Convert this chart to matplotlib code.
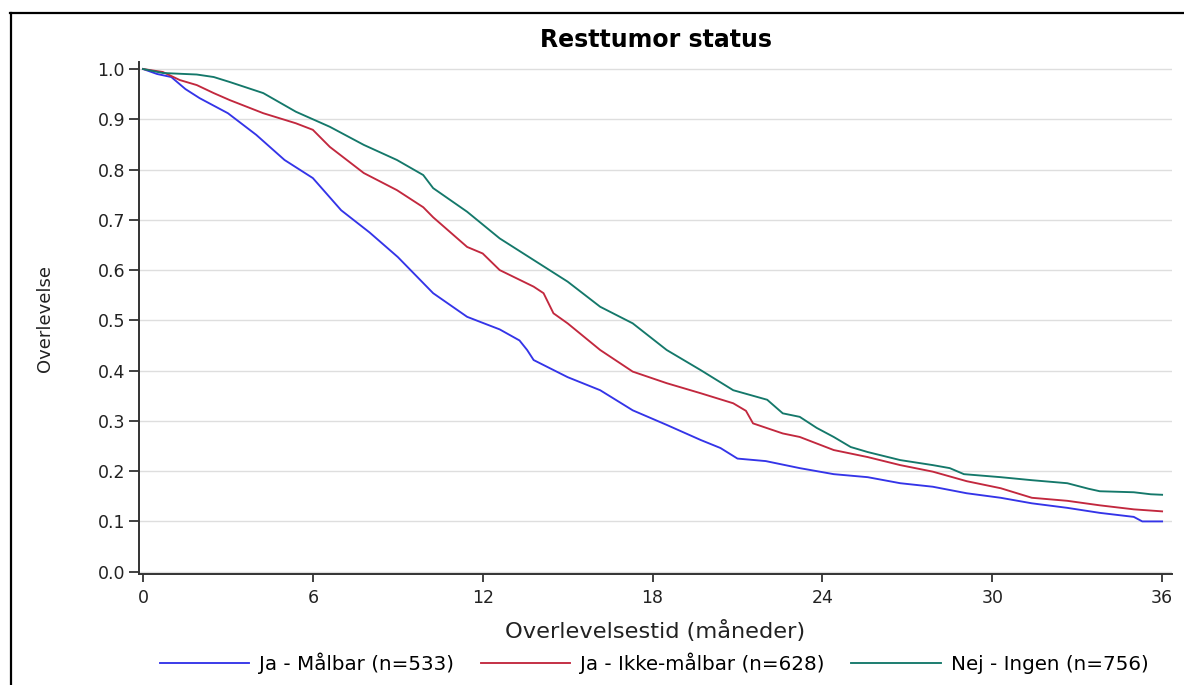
import matplotlib
matplotlib.use("Agg")
import matplotlib.pyplot as plt
from matplotlib.lines import Line2D

# ---- data (time in months, survival proportion) ----
t_maalbar = [0, 0.5, 1, 1.5, 2, 3, 4, 5, 6, 7, 8, 9, 10.25, 11.45, 12.0, 12.6,
             13.3, 13.57, 13.8, 15, 16.15, 17.3, 18.5, 19.7, 20.4, 21, 22, 23.2,
             24.4, 25.6, 26.75, 27.9, 29.1, 30.3, 31.4, 32.65, 33.8, 35, 35.3, 36]
s_maalbar = [1.0, 0.99, 0.984, 0.96, 0.942, 0.912, 0.869, 0.819, 0.783, 0.719,
             0.675, 0.626, 0.554, 0.507, 0.495, 0.482, 0.460, 0.441, 0.421, 0.387,
             0.361, 0.321, 0.292, 0.262, 0.246, 0.225, 0.22, 0.206, 0.194, 0.188,
             0.176, 0.169, 0.156, 0.147, 0.136, 0.127, 0.117, 0.109, 0.10, 0.10]

t_ikke_maalbar = [0, 0.7, 1.3, 1.9, 2.5, 3.07, 4.25, 5.4, 6.0, 6.6, 7.8, 8.97,
                  9.9, 10.25, 11.45, 12.0, 12.6, 13.8, 14.15, 14.5, 15, 16.15,
                  17.3, 18.5, 19.7, 20.85, 21.3, 21.55, 22.6, 23.2, 24.4, 25.6,
                  26.75, 27.9, 29.1, 30.3, 31.4, 32.65, 33.8, 35, 36]
s_ikke_maalbar = [1.0, 0.994, 0.978, 0.968, 0.952, 0.938, 0.912, 0.892, 0.879,
                  0.845, 0.793, 0.759, 0.725, 0.705, 0.646, 0.633, 0.600, 0.567,
                  0.554, 0.514, 0.494, 0.441, 0.398, 0.375, 0.355, 0.335, 0.32,
                  0.295, 0.275, 0.268, 0.242, 0.228, 0.212, 0.199, 0.18, 0.166,
                  0.147, 0.141, 0.132, 0.124, 0.12]

t_ingen = [0, 0.7, 1.9, 2.5, 3.07, 4.25, 5.4, 6.6, 7.8, 8.97, 9.9, 10.25, 11.45,
           12.6, 13.8, 15, 16.15, 17.3, 18.5, 19.7, 20.85, 22.05, 22.6, 23.2,
           23.8, 24.4, 25, 25.6, 26.75, 27.9, 28.5, 29, 30.3, 31.4, 32.65, 33.4,
           33.8, 35, 35.6, 36]
s_ingen = [1.0, 0.992, 0.989, 0.984, 0.974, 0.952, 0.915, 0.885, 0.849, 0.819,
           0.789, 0.763, 0.716, 0.663, 0.620, 0.577, 0.527, 0.494, 0.441, 0.401,
           0.361, 0.342, 0.315, 0.308, 0.286, 0.268, 0.248, 0.238, 0.222, 0.212,
           0.206, 0.194, 0.188, 0.182, 0.176, 0.165, 0.160, 0.158, 0.154, 0.153]

labels = ["Ja - Målbar (n=533)", "Ja - Ikke-målbar (n=628)", "Nej - Ingen (n=756)"]
colors = ["#3434e8", "#c2283e", "#14786a"]

x_ticks = [0, 6, 12, 18, 24, 30, 36]
y_ticks = [0.0, 0.1, 0.2, 0.3, 0.4, 0.5, 0.6, 0.7, 0.8, 0.9, 1.0]

title = "Resttumor status"
xlabel = "Overlevelsestid (måneder)"
ylabel = "Overlevelse"

# ---- figure ----
plt.rcParams['font.family'] = ['DejaVu Sans']
fig = plt.figure(figsize=(11.84, 6.85), dpi=100)
ax = fig.add_axes([139 / 1184, 111 / 685, (1172 - 139) / 1184, (574 - 62) / 685])

series = [(t_maalbar, s_maalbar), (t_ikke_maalbar, s_ikke_maalbar), (t_ingen, s_ingen)]
for (t, s), lab, c in zip(series, labels, colors):
    ax.plot(t, s, color=c, lw=1.35, label=lab)

ax.set_xlim(-0.141, 36.35)
ax.set_ylim(-0.0046, 1.0139)
ax.set_xticks(x_ticks)
ax.set_yticks(y_ticks)
ax.set_yticklabels([f"{v:.1f}" for v in y_ticks])
ax.grid(axis="y", color="#dedede", lw=1.0)
ax.set_axisbelow(True)

for s in ["top", "right"]:
    ax.spines[s].set_visible(False)
for s in ["left", "bottom"]:
    ax.spines[s].set_color("#333333")
    ax.spines[s].set_linewidth(1.4)

ax.tick_params(axis="both", colors="#333333", labelcolor="#222222", width=1.3,
               labelsize=12.5)
ax.tick_params(axis="y", length=7, pad=3)
ax.tick_params(axis="x", length=6, pad=5)

ax.set_title(title, fontsize=17, fontweight="bold", pad=11)
ax.set_xlabel(xlabel, fontsize=16.2, color="#222222", labelpad=9)
ax.set_ylabel(ylabel, fontsize=13, color="#222222", labelpad=31)

fig.legend(loc="center", bbox_to_anchor=(654 / 1184, 22 / 685), ncol=3,
           frameon=False, fontsize=14.3, handlelength=4.5, handletextpad=0.5,
           columnspacing=1.35, borderaxespad=0)

# frame lines (top and left) around the figure
fig.add_artist(Line2D([10.5 / 1184, 10.5 / 1184], [0, 1 - 13 / 685],
                      transform=fig.transFigure, color="black", lw=1.6))
fig.add_artist(Line2D([10 / 1184, 1.0], [1 - 13 / 685, 1 - 13 / 685],
                      transform=fig.transFigure, color="black", lw=1.6))

fig.savefig("out.png", dpi=100)
